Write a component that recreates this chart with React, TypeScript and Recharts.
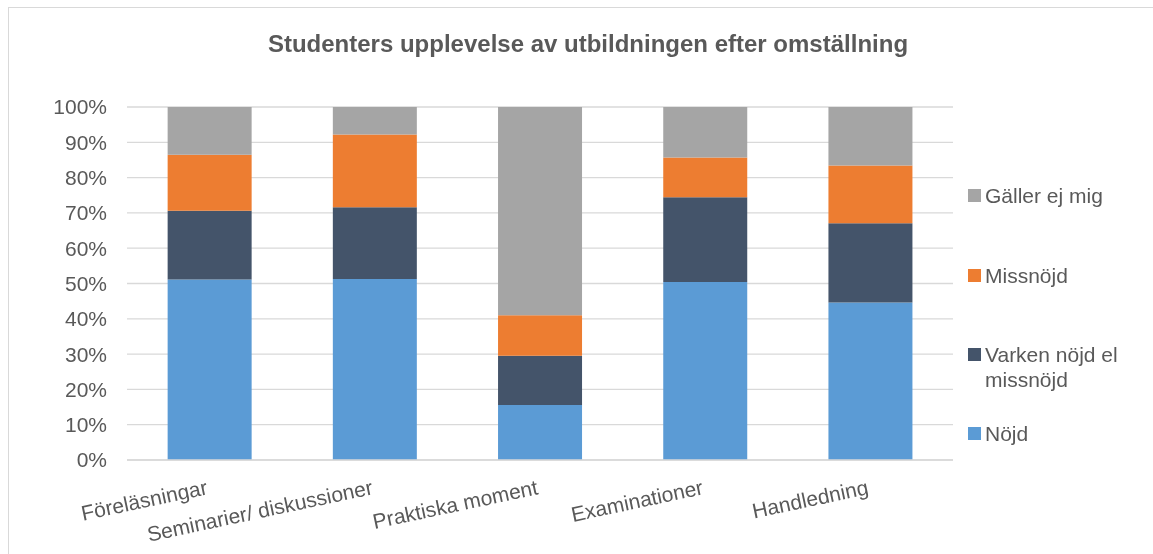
import React from 'react';
import { BarChart, Bar, XAxis, YAxis, CartesianGrid } from 'recharts';

const title = 'Studenters upplevelse av utbildningen efter omställning';
const categories = ['Föreläsningar', 'Seminarier/ diskussioner', 'Praktiska moment', 'Examinationer', 'Handledning'];
const nojd = [51.1, 51.3, 15.6, 50.4, 44.6];
const varken = [19.5, 20.3, 13.9, 24.0, 22.5];
const missnojd = [15.9, 20.6, 11.5, 11.3, 16.3];
const gallerEj = [13.5, 7.8, 59.0, 14.3, 16.6];
const seriesNames = ['Nöjd', 'Varken nöjd el missnöjd', 'Missnöjd', 'Gäller ej mig'];
const seriesKeys = ['nojd', 'varken', 'missnojd', 'gallerEj'];
const seriesColors = ['#5B9BD5', '#44546A', '#ED7D31', '#A5A5A5'];
const yTicks = [0, 10, 20, 30, 40, 50, 60, 70, 80, 90, 100];

const data = categories.map((c, i) => ({
  name: c,
  nojd: nojd[i],
  varken: varken[i],
  missnojd: missnojd[i],
  gallerEj: gallerEj[i],
}));

const FONT = '"Liberation Sans", Arial, sans-serif';
const TEXT = '#595959';

const XTick = (props: any) => {
  const { x, y, payload } = props;
  return (
    <text
      x={0}
      y={0}
      transform={`translate(${x - 1},${y + 34}) rotate(-12)`}
      textAnchor="end"
      fill={TEXT}
      fontSize={21}
      fontFamily={FONT}
    >
      {payload.value}
    </text>
  );
};

const legendTops = [195, 275, 354, 433];

export default function App() {
  const legendOrder = [3, 2, 1, 0];
  return (
    <div>
      <div
        style={{
          position: 'fixed',
          left: 8,
          top: 7,
          width: 1160,
          height: 560,
          borderTop: '1.5px solid #d9d9d9',
          borderLeft: '1.5px solid #d9d9d9',
          boxSizing: 'border-box',
        }}
      />
      <div
        style={{
          position: 'fixed',
          left: 0,
          top: 30,
          width: 1176,
          textAlign: 'center',
          fontFamily: FONT,
          fontWeight: 'bold',
          fontSize: 24,
          color: TEXT,
          lineHeight: '28px',
        }}
      >
        {title}
      </div>
      <div style={{ position: 'fixed', left: 0, top: 0 }}>
        <BarChart
          width={1153}
          height={554}
          data={data}
          margin={{ top: 107, right: 200, bottom: 64, left: 0 }}
          barCategoryGap="24.6%"
        >
          <CartesianGrid vertical={false} stroke="#d9d9d9" strokeWidth={1.3} />
          <XAxis
            dataKey="name"
            height={30}
            tick={<XTick />}
            tickLine={false}
            tickSize={0}
            tickMargin={0}
            axisLine={{ stroke: '#d9d9d9', strokeWidth: 1.3 }}
            interval={0}
          />
          <YAxis
            width={127}
            domain={[0, 100]}
            ticks={yTicks}
            tickFormatter={(v: number) => `${v}%`}
            axisLine={false}
            tickLine={false}
            tickSize={0}
            tickMargin={20}
            tick={{ fill: TEXT, fontSize: 21, fontFamily: FONT }}
          />
          {seriesKeys.map((k, i) => (
            <Bar
              key={k}
              dataKey={k}
              name={seriesNames[i]}
              stackId="a"
              fill={seriesColors[i]}
              isAnimationActive={false}
            />
          ))}
        </BarChart>
      </div>
      {legendOrder.map((si, idx) => (
        <div
          key={si}
          style={{
            position: 'fixed',
            left: 968,
            top: legendTops[idx] - 12.5,
            width: 175,
            fontFamily: FONT,
            fontSize: 21,
            lineHeight: '25px',
            color: TEXT,
          }}
        >
          <span
            style={{
              position: 'absolute',
              left: 0,
              top: 6,
              width: 13,
              height: 13,
              background: seriesColors[si],
            }}
          />
          <div style={{ marginLeft: 17, width: 140 }}>{seriesNames[si]}</div>
        </div>
      ))}
    </div>
  );
}
